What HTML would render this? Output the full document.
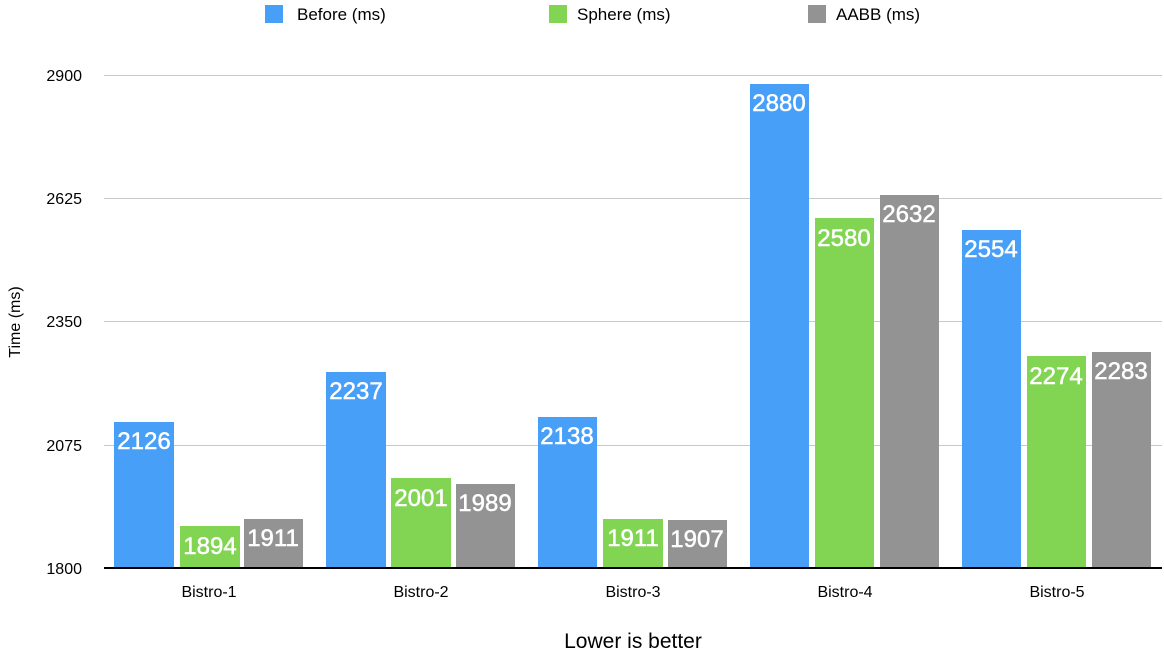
<!DOCTYPE html>
<html><head><meta charset="utf-8"><style>
body{margin:0;background:#fff;}
svg{display:block;font-family:"Liberation Sans",Arial,sans-serif;}
</style></head><body>
<svg width="1164" height="664" viewBox="0 0 1164 664" xmlns="http://www.w3.org/2000/svg">
<rect width="1164" height="664" fill="#fff"/>
<rect x="265" y="5" width="18" height="18" fill="#489ff8"/>
<text x="297" y="20" font-size="17" fill="#000">Before (ms)</text>
<rect x="549" y="5" width="18" height="18" fill="#82d552"/>
<text x="577" y="20" font-size="17" fill="#000">Sphere (ms)</text>
<rect x="808" y="5" width="18" height="18" fill="#939393"/>
<text x="836" y="20" font-size="17" fill="#000">AABB (ms)</text>
<g stroke="#c8c8c8" stroke-width="1">
<line x1="104" y1="75.5" x2="1162" y2="75.5"/>
<line x1="104" y1="198.5" x2="1162" y2="198.5"/>
<line x1="104" y1="321.5" x2="1162" y2="321.5"/>
<line x1="104" y1="445.5" x2="1162" y2="445.5"/>
</g>
<g font-size="16" fill="#000" text-anchor="end">
<text x="82" y="81">2900</text>
<text x="82" y="204">2625</text>
<text x="82" y="327">2350</text>
<text x="82" y="451">2075</text>
<text x="82" y="574">1800</text>
</g>
<text transform="translate(20,322) rotate(-90)" font-size="16" text-anchor="middle">Time (ms)</text>
<g font-size="16" text-anchor="middle">
<text x="209" y="597">Bistro-1</text>
<text x="421" y="597">Bistro-2</text>
<text x="633" y="597">Bistro-3</text>
<text x="845" y="597">Bistro-4</text>
<text x="1057" y="597">Bistro-5</text>
</g>
<text x="633" y="648" font-size="21" text-anchor="middle">Lower is better</text>
<g>
<rect x="114" y="422" width="60" height="146" fill="#489ff8"/>
<rect x="180" y="526" width="60" height="42" fill="#82d552"/>
<rect x="244" y="519" width="59" height="49" fill="#939393"/>
<rect x="326" y="372" width="60" height="196" fill="#489ff8"/>
<rect x="391" y="478" width="60" height="90" fill="#82d552"/>
<rect x="456" y="484" width="59" height="84" fill="#939393"/>
<rect x="538" y="417" width="59" height="151" fill="#489ff8"/>
<rect x="603" y="519" width="60" height="49" fill="#82d552"/>
<rect x="668" y="520" width="59" height="48" fill="#939393"/>
<rect x="750" y="84" width="59" height="484" fill="#489ff8"/>
<rect x="815" y="218" width="59" height="350" fill="#82d552"/>
<rect x="880" y="195" width="59" height="373" fill="#939393"/>
<rect x="962" y="230" width="59" height="338" fill="#489ff8"/>
<rect x="1027" y="356" width="59" height="212" fill="#82d552"/>
<rect x="1092" y="352" width="59" height="216" fill="#939393"/>
</g>
<line x1="104" y1="568" x2="1162" y2="568" stroke="#000" stroke-width="2"/>
<g font-size="24" fill="#fff" stroke="#fff" stroke-width="0.5" text-anchor="middle">
<text x="144" y="449">2126</text>
<text x="210" y="554">1894</text>
<text x="273" y="546">1911</text>
<text x="356" y="399">2237</text>
<text x="421" y="506">2001</text>
<text x="485" y="511">1989</text>
<text x="567" y="444">2138</text>
<text x="633" y="546">1911</text>
<text x="697" y="547">1907</text>
<text x="779" y="111">2880</text>
<text x="844" y="246">2580</text>
<text x="909" y="222">2632</text>
<text x="991" y="257">2554</text>
<text x="1056" y="384">2274</text>
<text x="1121" y="379">2283</text>
</g>
</svg>
</body></html>
